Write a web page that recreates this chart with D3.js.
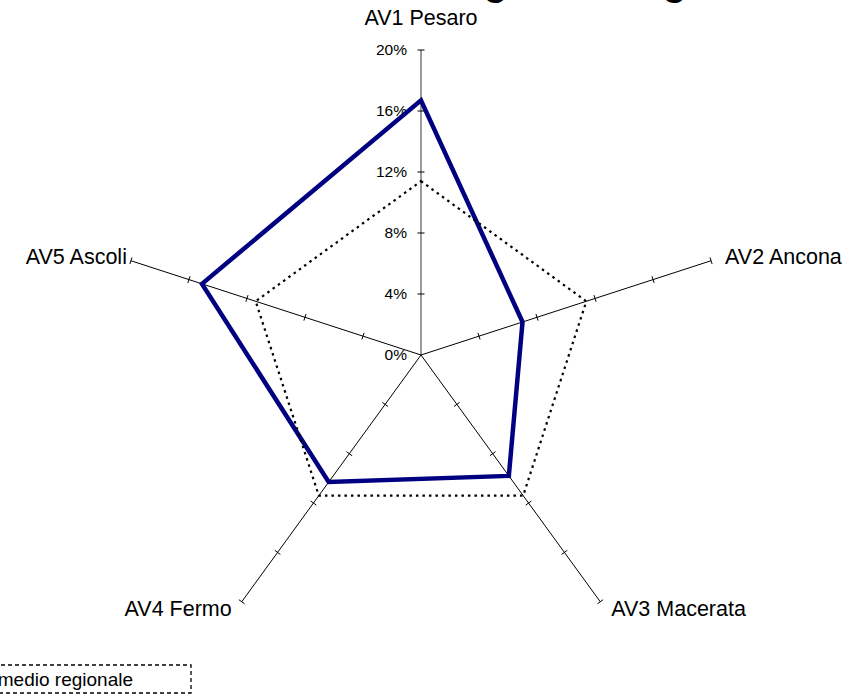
<!DOCTYPE html>
<html>
<head>
<meta charset="utf-8">
<script src="https://cdn.jsdelivr.net/npm/d3@7"></script>
<style>
  html, body { margin: 0; padding: 0; background: #fff; overflow: hidden; }
  svg { display: block; font-family: "Liberation Sans", Arial, sans-serif; }
</style>
</head>
<body>
<svg id="chart" width="851" height="697"></svg>
<script>
// Area Vasta categories and the two series drawn on the radar
const categories = ["AV1 Pesaro", "AV2 Ancona", "AV3 Macerata", "AV4 Fermo", "AV5 Ascoli"];
const avValues = [16.7, 7.0, 9.8, 10.3, 15.1];
const regionalAvg = [11.4, 11.4, 11.4, 11.4, 11.4];
const tickValues = [0, 4, 8, 12, 16, 20];
const tickLabels = ["0%", "4%", "8%", "12%", "16%", "20%"];
const titleText = "Degenza regionale";
const legendLabel = "Dato medio regionale";

const svg = d3.select("#chart");
const cx = 421, cy = 355, radius = 305;

const r = d3.scaleLinear().domain([0, 20]).range([0, radius]);
const angle = d3.scaleLinear().domain([0, categories.length]).range([-Math.PI / 2, 1.5 * Math.PI]);

const pt = (i, v) => [cx + r(v) * Math.cos(angle(i)), cy + r(v) * Math.sin(angle(i))];

// title (sits mostly above the visible area)
svg.append("text")
  .attr("x", 424).attr("y", -7)
  .attr("font-size", 46)
  .attr("fill", "#000")
  .text(titleText);

// category axes with tick marks
const axes = svg.append("g");
categories.forEach((c, i) => {
  const [x1, y1] = pt(i, 20);
  axes.append("line")
    .attr("x1", cx).attr("y1", cy).attr("x2", x1).attr("y2", y1)
    .attr("stroke", i === 0 ? "#808080" : "#000")
    .attr("stroke-width", i === 0 ? 1.6 : 1);
  const a = angle(i);
  const nx = -Math.sin(a), ny = Math.cos(a);
  tickValues.slice(1).forEach(v => {
    const [tx, ty] = pt(i, v);
    axes.append("line")
      .attr("x1", tx - nx * 3.5).attr("y1", ty - ny * 3.5)
      .attr("x2", tx + nx * 3.5).attr("y2", ty + ny * 3.5)
      .attr("stroke", "#000").attr("stroke-width", 1);
  });
});

// value axis labels
svg.append("g").selectAll("text")
  .data(tickValues)
  .join("text")
  .attr("x", cx - 14)
  .attr("y", d => cy - r(d))
  .attr("dy", "0.35em")
  .attr("text-anchor", "end")
  .attr("font-size", 15.5)
  .attr("fill", "#000")
  .text((d, i) => tickLabels[i]);

// category labels
const labelOffsets = [
  { dx: 0, dy: -25, anchor: "middle" },
  { dx: 14, dy: 3, anchor: "start" },
  { dx: 11, dy: 14, anchor: "start" },
  { dx: -10, dy: 14, anchor: "end" },
  { dx: -4, dy: 3, anchor: "end" }
];
svg.append("g").selectAll("text")
  .data(categories)
  .join("text")
  .attr("x", (d, i) => pt(i, 20)[0] + labelOffsets[i].dx)
  .attr("y", (d, i) => pt(i, 20)[1] + labelOffsets[i].dy)
  .attr("text-anchor", (d, i) => labelOffsets[i].anchor)
  .attr("font-size", 21.5)
  .attr("fill", "#000")
  .text(d => d);

const radar = d3.line().curve(d3.curveLinearClosed);

// Area Vasta series
svg.append("path")
  .attr("d", radar(avValues.map((v, i) => pt(i, v))))
  .attr("fill", "none")
  .attr("stroke", "#000080")
  .attr("stroke-width", 4.5)
  .attr("stroke-linejoin", "miter");

// regional average
svg.append("path")
  .attr("d", radar(regionalAvg.map((v, i) => pt(i, v))))
  .attr("fill", "none")
  .attr("stroke", "#000")
  .attr("stroke-width", 2.2)
  .attr("stroke-dasharray", "2.5,4");

// legend
const legend = svg.append("g");
legend.append("rect")
  .attr("x", -300).attr("y", 665).attr("width", 491).attr("height", 28)
  .attr("fill", "#fff")
  .attr("stroke", "#000").attr("stroke-width", 1.3)
  .attr("stroke-dasharray", "4,3");
legend.append("text")
  .attr("x", 133).attr("y", 686)
  .attr("text-anchor", "end")
  .attr("font-size", 19)
  .attr("fill", "#000")
  .text(legendLabel);
</script>
</body>
</html>
